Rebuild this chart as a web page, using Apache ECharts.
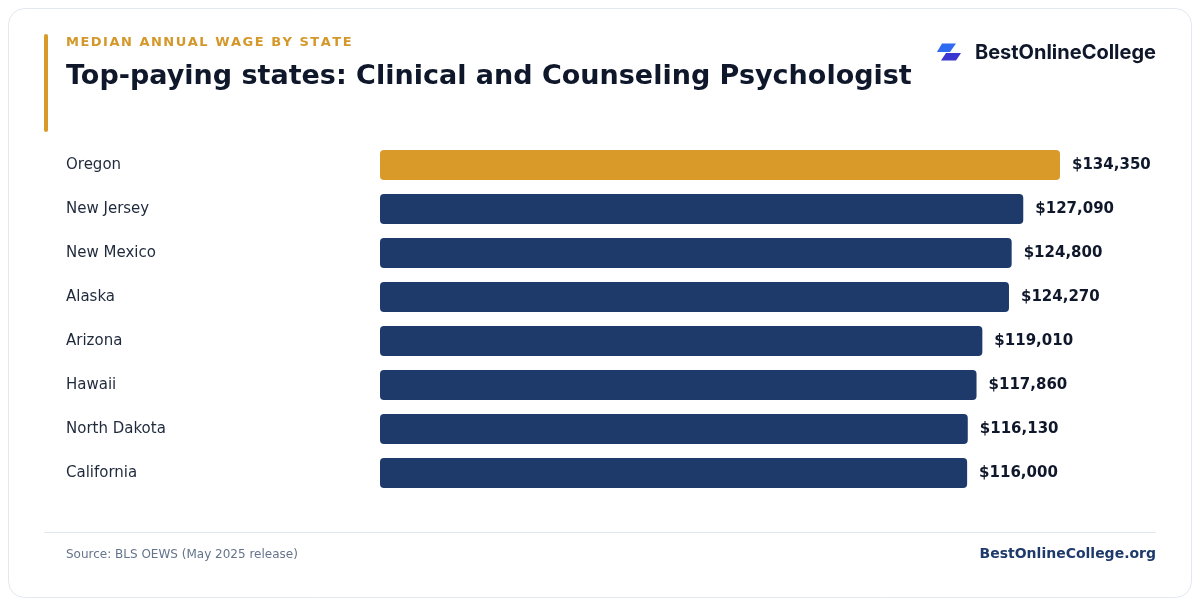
<!DOCTYPE html>
<html><head><meta charset="utf-8">
<script src="https://cdn.jsdelivr.net/npm/echarts@6/dist/echarts.min.js"></script>
<style>html,body{margin:0;padding:0;background:#fff;}#c{width:1200px;height:606px;}</style>
</head><body><div id="c"></div>
<script>
const states = ["Oregon","New Jersey","New Mexico","Alaska","Arizona","Hawaii","North Dakota","California"];
const wages = [134350,127090,124800,124270,119010,117860,116130,116000];
const highlightIndex = 0;
const subtitle = "MEDIAN ANNUAL WAGE BY STATE";
const title = "Top-paying states: Clinical and Counseling Psychologist";
const source = "Source: BLS OEWS (May 2025 release)";
const brand = "BestOnlineCollege";
const brandUrl = "BestOnlineCollege.org";

const FONT = "DejaVu Sans";
const chart = echarts.init(document.getElementById('c'), null, {renderer:'canvas'});
const fmt = v => '$' + v.toLocaleString('en-US');

// spaced subtitle using rich text tokens (letter spacing)
const spacedSubtitle = subtitle.split('').map(ch => '{s|' + ch + '}').join('');

chart.setOption({
  animation:false,
  backgroundColor:'#ffffff',
  grid:{left:380, right:140, top:143, bottom:111, containLabel:false},
  xAxis:{type:'value', min:0, max:134350, show:false},
  yAxis:{type:'category', data:states, inverse:true,
    axisLine:{show:false}, axisTick:{show:false},
    axisLabel:{align:'left', margin:314, fontFamily:FONT, fontSize:15, color:'#1e293b', padding:[3,0,0,0]}},
  series:[{
    type:'bar', barWidth:30,
    data:wages.map((v,i)=>({value:v, itemStyle:{color: i===highlightIndex ? '#d99a29' : '#1e3a6b'}})),
    itemStyle:{borderRadius:4},
    label:{show:true, position:'right', distance:12, formatter:p=>fmt(p.value), padding:[3,0,0,0],
      fontFamily:FONT, fontSize:15, fontWeight:'bold', color:'#0f172a'}
  }],
  graphic:[
    {type:'rect', z:-10, shape:{x:8.5,y:8.5,width:1183,height:589,r:16}, style:{fill:'#ffffff', stroke:'#e2e8f0', lineWidth:1}},
    {type:'rect', shape:{x:44,y:34,width:4,height:98,r:2}, style:{fill:'#d99a29'}},
    {type:'text', left:66, top:36, style:{text:spacedSubtitle, fontFamily:FONT, fontSize:13, fontWeight:'bold', fill:'#d4982a',
      rich:{s:{fontFamily:FONT, fontSize:13, fontWeight:'bold', color:'#d4982a', padding:[0,1.5,0,0]}}}},
    {type:'text', left:66, top:63, style:{text:title, fontFamily:FONT, fontSize:27, fontWeight:'bold', fill:'#0f172a'}},
    {type:'polygon', shape:{points:[[942,43.5],[956,43.5],[950,52],[937,52]]}, style:{fill:'#2f6bf0'}},
    {type:'polygon', shape:{points:[[946,53],[961,53],[956,60.5],[941,60.5]]}, style:{fill:'#3a36cf'}},
    {type:'text', right:44, top:43, style:{text:brand, fontFamily:'Inter', fontSize:20, fontWeight:'bold', fill:'#0f172a'}},
    {type:'line', shape:{x1:44,y1:532.5,x2:1156,y2:532.5}, style:{stroke:'#e2e8f0', lineWidth:1}},
    {type:'text', left:66, top:549, style:{text:source, fontFamily:FONT, fontSize:12, fill:'#64748b'}},
    {type:'text', right:44, top:547, style:{text:brandUrl, fontFamily:FONT, fontSize:14, fontWeight:'bold', fill:'#1e3a6b'}}
  ]
});
</script></body></html>
